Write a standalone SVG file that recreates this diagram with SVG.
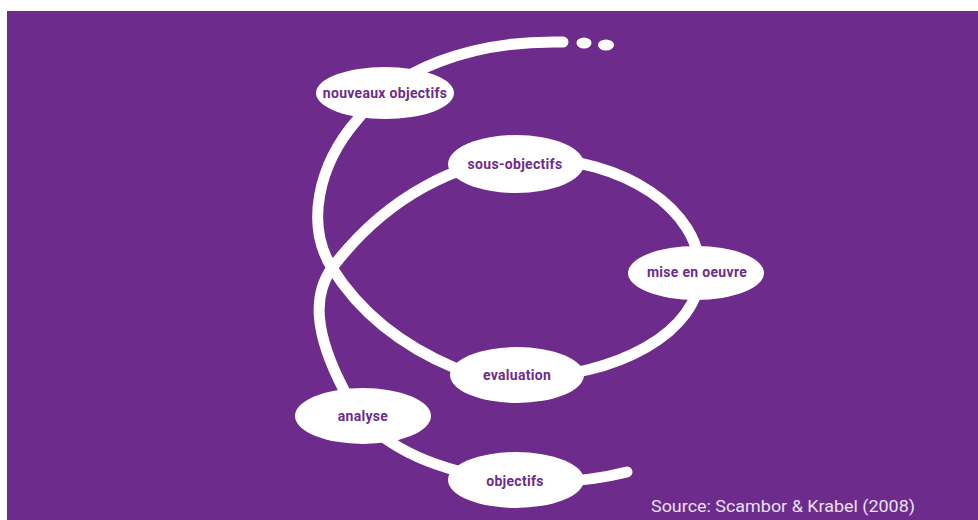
<svg xmlns="http://www.w3.org/2000/svg" width="978" height="520" viewBox="0 0 978 520">
  <style>
    .bg { fill: #6d2c8c; }
    .link { fill: none; stroke: #ffffff; stroke-width: 11; stroke-linecap: round; stroke-linejoin: round; }
    .node ellipse { fill: #ffffff; }
    .node text { font-family: Roboto, "Noto Sans", "DejaVu Sans", sans-serif; font-weight: bold; font-size: 14px; letter-spacing: 0.3px; fill: #6d2c8c; text-anchor: middle; }
    .src { font-family: Roboto, "Liberation Sans", sans-serif; font-size: 17px; fill: #e9e0f0; }
  </style>
  <rect x="0" y="0" width="978" height="520" fill="#ffffff"/>
  <rect class="bg" x="7" y="11" width="971" height="509"/>

  <g id="connectors">
    <path class="link" d="M 563 42 C 470 40 395 70 357 120 C 318 165 305 225 332 268 C 359 311 400 345 455 368 C 475 376 495 378 517 378 C 618 378 700 331 700 272 C 700 210 625 158 528 158 C 460 158 385 198 332 268 C 314 293 312 330 345 392 C 360 420 375 432 392 443 C 415 458 440 467 470 474 C 520 486 580 484 627 472"/>
    <ellipse cx="584" cy="43" rx="7.5" ry="5.5" fill="#ffffff"/>
    <ellipse cx="606" cy="45" rx="8" ry="5.5" fill="#ffffff"/>
  </g>

  <g id="nouveaux-objectifs" class="node">
    <ellipse cx="385" cy="93" rx="69" ry="26"/>
    <text x="385" y="98">nouveaux objectifs</text>
  </g>
  <g id="sous-objectifs" class="node">
    <ellipse cx="516" cy="164" rx="68" ry="29"/>
    <text x="515" y="169">sous-objectifs</text>
  </g>
  <g id="mise-en-oeuvre" class="node">
    <ellipse cx="696" cy="273" rx="68" ry="27"/>
    <text x="697" y="277">mise en oeuvre</text>
  </g>
  <g id="evaluation" class="node">
    <ellipse cx="517" cy="375" rx="67" ry="28"/>
    <text x="517" y="380">evaluation</text>
  </g>
  <g id="analyse" class="node">
    <ellipse cx="363" cy="416" rx="68" ry="28"/>
    <text x="363" y="421">analyse</text>
  </g>
  <g id="objectifs" class="node">
    <ellipse cx="516" cy="480" rx="68" ry="28"/>
    <text x="515" y="486">objectifs</text>
  </g>

  <text class="src" x="651" y="512" textLength="264" lengthAdjust="spacingAndGlyphs">Source: Scambor &amp; Krabel (2008)</text>
</svg>
